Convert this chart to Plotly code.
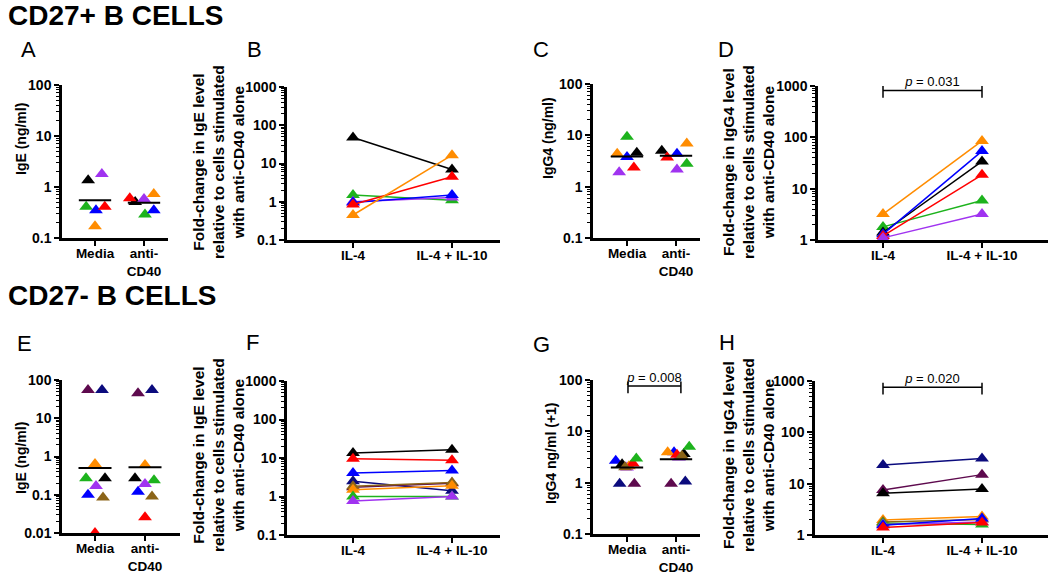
import math
import plotly.graph_objects as go

W, H = 1050, 574

COLORS = {
    "black": "#000000", "purple": "#a033f0", "green": "#1db31d", "red": "#ff0000",
    "blue": "#0000ff", "orange": "#ff8c00", "brown": "#8b6418", "maroon": "#5e0a4e",
    "navy": "#0b0b7d",
}

# ---------------- DATA ----------------
CAT_SCATTER = ["Media", "anti-<br>CD40"]
CAT_PAIRED = ["IL-4", "IL-4 + IL-10"]

# A: CD27+ IgE (ng/ml)
A_donors = ["black", "purple", "green", "blue", "red", "orange"]
A_media = [1.35, 1.8, 0.41, 0.35, 0.41, 0.17]
A_anti = [0.51, 0.58, 0.29, 0.35, 0.6, 0.73]
A_media_jit = [-0.14, 0.14, -0.18, 0.02, 0.2, 0.0]
A_anti_jit = [-0.18, 0.0, 0.02, 0.2, -0.29, 0.2]
A_means = [0.55, 0.49]

# B: CD27+ fold-change IgE
B_donors = ["black", "green", "purple", "blue", "red", "orange"]
B_il4 = [48, 1.5, 1.0, 0.95, 0.85, 0.45]
B_il4il10 = [7.0, 1.1, 1.3, 1.5, 4.5, 16.5]

# C: CD27+ IgG4 (ng/ml)
C_donors = ["orange", "green", "blue", "black", "purple", "red"]
C_media = [4.4, 9.4, 3.8, 4.6, 1.9, 2.35]
C_anti = [6.9, 2.8, 4.4, 5.0, 2.15, 3.7]
C_media_jit = [-0.2, 0.0, 0.0, 0.2, -0.16, 0.14]
C_anti_jit = [0.22, 0.22, 0.02, -0.29, 0.02, -0.18]
C_means = [3.85, 4.0]

# D: CD27+ fold-change IgG4
D_donors = ["orange", "green", "black", "blue", "red", "purple"]
D_il4 = [3.2, 1.8, 1.4, 1.3, 1.2, 1.1]
D_il4il10 = [85, 5.9, 34, 54, 18.6, 3.2]
D_p_label = "<i>p</i> = 0.031"
D_p_level = 813

# E: CD27- IgE (ng/ml)
E_donors = ["maroon", "navy", "orange", "green", "black", "purple", "blue", "brown", "red"]
E_media = [55, 55, 0.64, 0.27, 0.27, 0.17, 0.1, 0.085, 0.01]
E_anti = [45, 55, 0.6, 0.24, 0.27, 0.19, 0.12, 0.09, 0.026]
E_media_jit = [-0.14, 0.14, 0.0, -0.18, 0.2, 0.02, -0.14, 0.16, 0.0]
E_anti_jit = [-0.14, 0.14, 0.0, 0.18, -0.2, 0.0, -0.14, 0.14, 0.0]
E_means = [0.5, 0.52]

# F: CD27- fold-change IgE
F_donors = ["black", "red", "blue", "navy", "maroon", "brown", "orange", "green", "purple"]
F_il4 = [13.5, 9.5, 4.1, 2.5, 1.75, 1.85, 1.5, 1.0, 0.76]
F_il4il10 = [16.5, 8.8, 4.7, 1.4, 2.2, 2.3, 1.9, 1.0, 1.0]

# G: CD27- IgG4 ng/ml (+1)
G_donors = ["blue", "black", "purple", "orange", "red", "green", "navy", "maroon", "brown"]
G_media = [2.66, 2.29, 1.97, 2.1, 2.36, 2.95, 0.95, 0.95, 2.0]
G_anti = [3.9, 3.6, 3.1, 3.9, 3.5, 5.0, 1.05, 0.95, 3.3]
G_media_jit = [-0.23, -0.1, 0.0, 0.04, 0.12, 0.19, -0.15, 0.15, -0.04]
G_anti_jit = [-0.04, 0.16, 0.06, -0.17, 0.02, 0.27, 0.19, -0.1, 0.12]
G_means = [1.97, 2.87]
G_p_label = "<i>p</i> = 0.008"
G_p_level = 76

# H: CD27- fold-change IgG4
H_donors = ["navy", "maroon", "black", "orange", "brown", "green", "purple", "blue", "red"]
H_il4 = [23, 7.5, 6.5, 1.95, 1.8, 1.7, 1.6, 1.55, 1.4]
H_il4il10 = [31, 15, 7.9, 2.3, 2.0, 1.6, 1.8, 2.1, 1.75]
H_p_label = "<i>p</i> = 0.020"
H_p_level = 753

# ---------------- LAYOUT (pixel geometry) ----------------
# name: (x0, x1, tick1_px, tick2_px, ytop, ybottom, yrange_log)
GEOM = {
    "A": (62, 168, 95, 144, 85, 238, (-1, 2)),
    "B": (287, 500, 353, 452, 87, 240, (-1, 3)),
    "C": (593, 700, 627, 676, 84, 238, (-1, 2)),
    "D": (818, 1048, 883, 982, 86, 240, (0, 3)),
    "E": (62, 180, 95, 145, 380, 533, (-2, 2)),
    "F": (287, 500, 353, 452, 381, 535, (-1, 3)),
    "G": (593, 700, 627, 676, 380, 534, (-1, 2)),
    "H": (815, 1048, 883, 982, 381, 535, (0, 3)),
}
ORDER = ["A", "B", "C", "D", "E", "F", "G", "H"]

fig = go.Figure()
layout = {}

FONT = "Liberation Sans, Arial, sans-serif"
TICKFONT = dict(family=FONT, size=14, color="black", weight="bold")
XTICKFONT = dict(family=FONT, size=13.5, color="black", weight="bold")

for i, name in enumerate(ORDER, start=1):
    x0, x1, t1, t2, yt, yb, yr = GEOM[name]
    unit = t2 - t1
    xr = (1 - (t1 - x0) / unit, 2 + (x1 - t2) / unit)
    paired = name in ("B", "D", "F", "H")
    sfx = "" if i == 1 else str(i)
    layout["xaxis" + sfx] = dict(
        domain=[x0 / W, x1 / W], range=list(xr), anchor="y" + sfx, automargin=False,
        showline=True, linewidth=2.5, linecolor="black", showgrid=False, zeroline=False,
        ticks="outside", ticklen=5, tickwidth=2, tickcolor="black",
        tickmode="array", tickvals=[1, 2],
        ticktext=CAT_PAIRED if paired else CAT_SCATTER,
        ticklabelstandoff=-4,
        tickfont=XTICKFONT, fixedrange=True,
    )
    layout["yaxis" + sfx] = dict(
        domain=[1 - yb / H, 1 - yt / H], type="log", range=list(yr), anchor="x" + sfx,
        automargin=False,
        showline=True, linewidth=2.5, linecolor="black", showgrid=False, zeroline=False,
        ticks="outside", ticklen=5, tickwidth=2, tickcolor="black",
        dtick=1, exponentformat="none", tickfont=TICKFONT,
        minor=dict(ticks="outside", ticklen=3, tickwidth=1, tickcolor="black", dtick="D1", showgrid=False),
        fixedrange=True,
    )

MARK = dict(symbol="triangle-up", size=12, line=dict(width=0))


def ax(i):
    return ("x" if i == 1 else "x%d" % i), ("y" if i == 1 else "y%d" % i)


def add_scatter_panel(i, donors, media, anti, mj, aj, means):
    xa, ya = ax(i)
    for d, m, a, j1, j2 in zip(donors, media, anti, mj, aj):
        fig.add_trace(go.Scatter(
            x=[1 + j1, 2 + j2], y=[m, a], mode="markers",
            marker=dict(color=COLORS[d], **MARK), xaxis=xa, yaxis=ya,
            showlegend=False, cliponaxis=False, hoverinfo="skip"))
    for k, mv in enumerate(means):
        c = k + 1
        fig.add_trace(go.Scatter(
            x=[c - 0.33, c + 0.33], y=[mv, mv], mode="lines",
            line=dict(color="black", width=2), xaxis=xa, yaxis=ya,
            showlegend=False, cliponaxis=False, hoverinfo="skip"))


def add_paired_panel(i, donors, v1, v2):
    xa, ya = ax(i)
    for d, a, b in zip(donors, v1, v2):
        fig.add_trace(go.Scatter(
            x=[1, 2], y=[a, b], mode="lines+markers",
            line=dict(color=COLORS[d], width=1.5),
            marker=dict(color=COLORS[d], **MARK), xaxis=xa, yaxis=ya,
            showlegend=False, cliponaxis=False, hoverinfo="skip"))


def add_bracket(i, level, label, xs=(1, 2)):
    xa, ya = ax(i)
    hi = level * 10 ** 0.09
    lo = level / 10 ** 0.14
    fig.add_trace(go.Scatter(
        x=[xs[0], xs[0], None, xs[0], xs[1], None, xs[1], xs[1]],
        y=[hi, lo, None, level, level, None, hi, lo], mode="lines",
        line=dict(color="black", width=1.5), xaxis=xa, yaxis=ya,
        showlegend=False, cliponaxis=False, hoverinfo="skip"))
    fig.add_trace(go.Scatter(
        x=[(xs[0] + xs[1]) / 2], y=[level * 10 ** 0.02], mode="text", text=[label],
        textposition="top center",
        textfont=dict(family=FONT, size=13, color="black"),
        xaxis=xa, yaxis=ya, showlegend=False, cliponaxis=False, hoverinfo="skip"))


add_scatter_panel(1, A_donors, A_media, A_anti, A_media_jit, A_anti_jit, A_means)
add_paired_panel(2, B_donors, B_il4, B_il4il10)
add_scatter_panel(3, C_donors, C_media, C_anti, C_media_jit, C_anti_jit, C_means)
add_paired_panel(4, D_donors, D_il4, D_il4il10)
add_bracket(4, D_p_level, D_p_label)
add_scatter_panel(5, E_donors, E_media, E_anti, E_media_jit, E_anti_jit, E_means)
add_paired_panel(6, F_donors, F_il4, F_il4il10)
add_scatter_panel(7, G_donors, G_media, G_anti, G_media_jit, G_anti_jit, G_means)
add_bracket(7, G_p_level, G_p_label, xs=(1.02, 2.1))
add_paired_panel(8, H_donors, H_il4, H_il4il10)
add_bracket(8, H_p_level, H_p_label)

annotations = []


def ann(text, px, py, size, weight="normal", angle=0, xanchor="center", yanchor="middle"):
    annotations.append(dict(
        text=text, x=px / W, y=1 - py / H, xref="paper", yref="paper",
        showarrow=False, textangle=angle, xanchor=xanchor, yanchor=yanchor,
        font=dict(family=FONT, size=size, color="black", weight=weight)))


# Section headers
ann("CD27+ B CELLS", 6, 15, 28, "bold", xanchor="left")
ann("CD27- B CELLS", 6, 295, 28, "bold", xanchor="left")

# Panel letters
for letter, (px, py) in {"A": (28, 50), "B": (254, 50), "C": (541, 50), "D": (726, 50),
                         "E": (24, 343), "F": (252, 342), "G": (541, 344), "H": (727, 342)}.items():
    ann(letter, px, py, 22)

FOLD_IGE = "Fold-change in IgE level<br>relative to cells stimulated<br>with anti-CD40 alone"
FOLD_IGG4 = "Fold-change in IgG4 level<br>relative to cells stimulated<br>with anti-CD40 alone"

ann("IgE (ng/ml)", 21, 139, 14, "bold", angle=-90)
ann(FOLD_IGE, 218, 162, 15.5, "bold", angle=-90)
ann("IgG4 (ng/ml)", 548, 138, 14, "bold", angle=-90)
ann(FOLD_IGG4, 748, 162, 15.5, "bold", angle=-90)
ann("IgE (ng/ml)", 21, 458, 14, "bold", angle=-90)
ann(FOLD_IGE, 218, 455, 15.5, "bold", angle=-90)
ann("IgG4 ng/ml (+1)", 551, 453, 14, "bold", angle=-90)
ann(FOLD_IGG4, 748, 455, 15.5, "bold", angle=-90)

fig.update_layout(
    width=W, height=H, margin=dict(l=0, r=0, t=0, b=0, autoexpand=False),
    paper_bgcolor="white", plot_bgcolor="white",
    annotations=annotations, showlegend=False, **layout,
)

fig.write_html("out.html", config={"displayModeBar": False},
               post_script="document.body.style.margin='0';")
